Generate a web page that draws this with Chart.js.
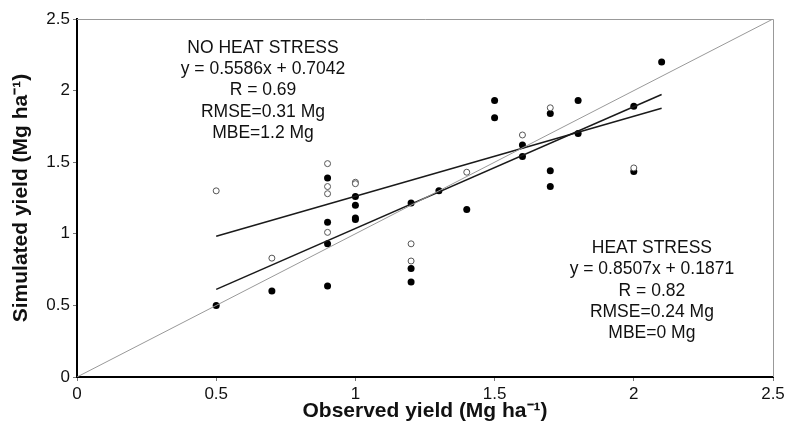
<!DOCTYPE html>
<html>
<head>
<meta charset="utf-8">
<script src="https://cdn.jsdelivr.net/npm/chart.js@4.4.1/dist/chart.umd.min.js"></script>
<style>
  html, body { margin: 0; padding: 0; background: #fff; }
  #wrap { width: 789px; height: 435px; }
</style>
</head>
<body>
<div id="wrap"><canvas id="chart" width="789" height="435"></canvas></div>
<script>
// =======================
// Data
// =======================

// heat stress simulations (filled dots)
const heatObs = [0.5, 0.7, 0.9, 0.9, 0.9, 0.9, 1.0, 1.0, 1.0, 1.0, 1.2, 1.2, 1.2, 1.3, 1.4,
  1.5, 1.5, 1.6, 1.6, 1.7, 1.7, 1.7, 1.8, 1.8, 2.0, 2.0, 2.1];
const heatSim = [0.50, 0.60, 0.635, 0.93, 1.08, 1.39, 1.26, 1.20, 1.11, 1.10, 0.757, 0.663, 1.215, 1.30, 1.17,
  1.93, 1.81, 1.62, 1.54, 1.84, 1.44, 1.33, 1.93, 1.70, 1.89, 1.435, 2.20];

// no heat stress simulations (open dots)
const noHeatObs = [0.5, 0.7, 0.9, 0.9, 0.9, 0.9, 1.0, 1.0, 1.2, 1.2, 1.4, 1.6, 1.7, 2.0];
const noHeatSim = [1.30, 0.83, 1.49, 1.33, 1.28, 1.01, 1.36, 1.35, 0.93, 0.81, 1.43, 1.69, 1.88, 1.46];

// regression line end points, and the 1:1 line
const fitX = [0.5, 2.1];
const noHeatFitY = [0.983, 1.877];
const heatFitY = [0.612, 1.973];
const oneToOne = [0, 2.5];

const xTicks = [0, 0.5, 1, 1.5, 2, 2.5];
const yTicks = [0, 0.5, 1, 1.5, 2, 2.5];

const noHeatLabel = ["NO HEAT STRESS", "y = 0.5586x + 0.7042", "R = 0.69", "RMSE=0.31 Mg", "MBE=1.2 Mg"];
const heatLabel = ["HEAT STRESS", "y = 0.8507x + 0.1871", "R = 0.82", "RMSE=0.24 Mg", "MBE=0 Mg"];

const FONT = "'Liberation Sans', Arial, Helvetica, sans-serif";

function toPoints(xs, ys) {
  return xs.map((x, i) => ({ x: x, y: ys[i] }));
}

// =======================
// Plugins
// =======================

// grey frame on the top and right sides
const framePlugin = {
  id: "frame",
  afterDatasetsDraw(chart) {
    const { ctx, chartArea: a } = chart;
    ctx.save();
    ctx.strokeStyle = "#999";
    ctx.lineWidth = 1;
    ctx.beginPath();
    ctx.moveTo(a.left, a.top + 0.5);
    ctx.lineTo(a.right + 0.5, a.top + 0.5);
    ctx.lineTo(a.right + 0.5, a.bottom);
    ctx.stroke();
    ctx.restore();
  }
};

// the two statistics blocks
const statsPlugin = {
  id: "stats",
  afterDraw(chart, args, opts) {
    const { ctx, scales } = chart;
    ctx.save();
    ctx.font = opts.font;
    ctx.fillStyle = "#111";
    ctx.textAlign = "center";
    ctx.textBaseline = "middle";
    opts.blocks.forEach(b => {
      const cx = scales.x.getPixelForValue(b.x);
      const cy = scales.y.getPixelForValue(b.y);
      b.lines.forEach((t, i) => ctx.fillText(t, cx, cy + i * opts.lineGap));
    });
    ctx.restore();
  }
};

// =======================
// Chart
// =======================

new Chart(document.getElementById("chart").getContext("2d"), {
  type: "scatter",
  data: {
    datasets: [
      {
        type: "line", label: "1:1", data: toPoints(oneToOne, oneToOne),
        borderColor: "#999", borderWidth: 1, pointRadius: 0, fill: false
      },
      {
        type: "line", label: "no heat fit", data: toPoints(fitX, noHeatFitY),
        borderColor: "#1a1a1a", borderWidth: 1.5, pointRadius: 0, fill: false
      },
      {
        type: "line", label: "heat fit", data: toPoints(fitX, heatFitY),
        borderColor: "#1a1a1a", borderWidth: 1.5, pointRadius: 0, fill: false
      },
      {
        label: "No heat stress", data: toPoints(noHeatObs, noHeatSim),
        pointRadius: 3, borderWidth: 1, borderColor: "#555", backgroundColor: "#fff"
      },
      {
        label: "Heat stress", data: toPoints(heatObs, heatSim),
        pointRadius: 3.5, borderWidth: 0, borderColor: "#000", backgroundColor: "#000"
      }
    ]
  },
  options: {
    responsive: false,
    animation: false,
    layout: { padding: { top: 19, right: 16, left: 0, bottom: 0 } },
    plugins: {
      legend: { display: false },
      tooltip: { enabled: false },
      stats: {
        font: "17.5px " + FONT,
        lineGap: 21.3,
        blocks: [
          { x: 0.668, y: 2.297, lines: noHeatLabel },
          { x: 2.065, y: 0.90, lines: heatLabel }
        ]
      }
    },
    scales: {
      x: {
        type: "linear", min: 0, max: 2.5,
        afterBuildTicks: s => { s.ticks = xTicks.map(v => ({ value: v })); },
        afterFit: s => { s.height = 58; },
        grid: { drawOnChartArea: false, drawTicks: true, tickLength: 4, color: "#777", lineWidth: 1 },
        border: { color: "#000", width: 2 },
        ticks: { color: "#111", font: { family: FONT, size: 17 }, padding: 3, maxRotation: 0, callback: v => String(v) },
        title: {
          display: true, text: "Observed yield (Mg ha\u207B\u00B9)", color: "#111",
          font: { family: FONT, size: 21, weight: "bold" }, padding: { top: 0, bottom: 11 }
        }
      },
      y: {
        type: "linear", min: 0, max: 2.5,
        afterBuildTicks: s => { s.ticks = yTicks.map(v => ({ value: v })); },
        afterFit: s => { s.width = 77; },
        grid: { drawOnChartArea: false, drawTicks: true, tickLength: 4, color: "#777", lineWidth: 1 },
        border: { color: "#000", width: 2 },
        ticks: { color: "#111", font: { family: FONT, size: 17 }, padding: 3, callback: v => String(v) },
        title: {
          display: true, text: "Simulated yield (Mg ha\u207B\u00B9)", color: "#111",
          font: { family: FONT, size: 21, weight: "bold" }, padding: { top: 9, bottom: 0 }
        }
      }
    }
  },
  plugins: [framePlugin, statsPlugin]
});
</script>
</body>
</html>
